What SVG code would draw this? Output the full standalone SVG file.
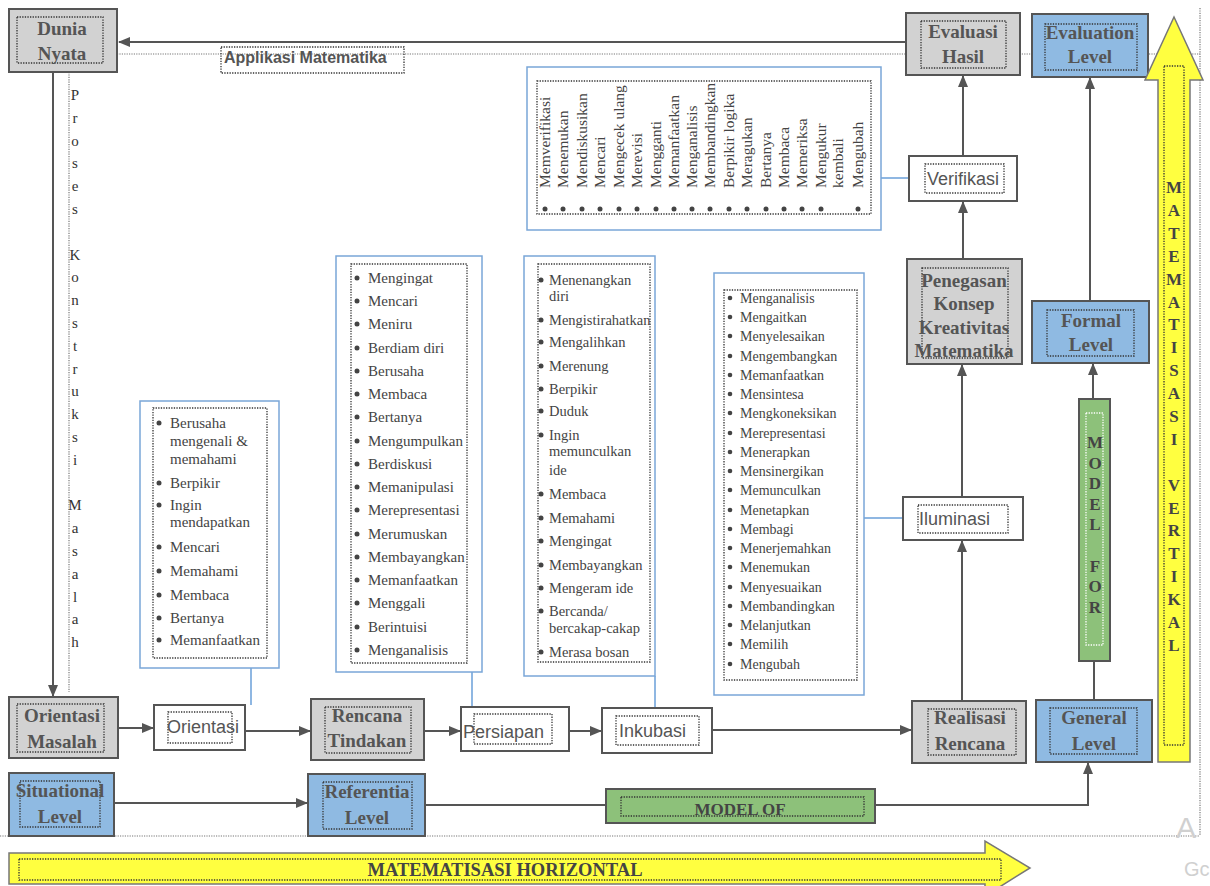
<svg xmlns="http://www.w3.org/2000/svg" width="1210" height="886" viewBox="0 0 1210 886">
<defs>
<marker id="ah" markerUnits="userSpaceOnUse" markerWidth="12" markerHeight="10" refX="11" refY="5" orient="auto">
<path d="M0,0 L12,5 L0,10 z" fill="#555"/>
</marker>
<style>
.gbox{fill:#d2d2d2;stroke:#555;stroke-width:2}
.bbox{fill:#8fbae2;stroke:#555;stroke-width:2}
.wbox{fill:#fff;stroke:#555;stroke-width:2}
.grn{fill:#8dc17a;stroke:#555;stroke-width:2}
.yel{fill:#ffff40;stroke:#777;stroke-width:1.5}
.dot{fill:none;stroke:#333;stroke-width:1.3;stroke-dasharray:1.3 1.3}
.wdot{fill:none;stroke:#fff;stroke-width:1.3;stroke-dasharray:1.3 1.3}
.frame{fill:none;stroke:#777;stroke-width:1.2;stroke-dasharray:1.2 1.2}
.list{fill:#fff;fill-opacity:0.6;stroke:#7aa6d8;stroke-width:1.5}
.lbl{font-family:"Liberation Serif",serif;font-weight:bold;font-size:19px;fill:#555;text-anchor:middle}
.sans{font-family:"Liberation Sans",sans-serif;font-size:18px;fill:#555}
.item{font-family:"Liberation Serif",serif;font-size:14.5px;fill:#444}
.vl{font-family:"Liberation Serif",serif;font-size:15px;fill:#333;text-anchor:middle}
.vb{font-family:"Liberation Serif",serif;font-weight:bold;font-size:17px;fill:#444;text-anchor:middle}
.conn{stroke:#555;stroke-width:2;fill:none}
.bl{stroke:#6a9fd8;stroke-width:1.5;fill:none}
.b{fill:#444}
</style>
</defs>
<rect width="1210" height="886" fill="#fff"/>

<g id="frame">
<line class="frame" x1="117" y1="54" x2="1200" y2="54"/>
<line class="frame" x1="1200" y1="8" x2="1200" y2="836"/>
<line class="frame" x1="0" y1="836" x2="1200" y2="836"/>
<line class="frame" x1="69" y1="72" x2="69" y2="692" stroke="#444"/>
</g>

<g id="connectors">
<line class="conn" x1="906" y1="42" x2="119" y2="42" marker-end="url(#ah)"/>
<line class="conn" x1="53" y1="72" x2="53" y2="696" marker-end="url(#ah)"/>
<line class="conn" x1="118" y1="728" x2="153" y2="728" marker-end="url(#ah)"/>
<line class="conn" x1="245" y1="731" x2="310" y2="731" marker-end="url(#ah)"/>
<line class="conn" x1="424" y1="731" x2="460" y2="731" marker-end="url(#ah)"/>
<line class="conn" x1="569" y1="731" x2="601" y2="731" marker-end="url(#ah)"/>
<line class="conn" x1="712" y1="730" x2="911" y2="730" marker-end="url(#ah)"/>
<line class="conn" x1="114" y1="803" x2="307" y2="803" marker-end="url(#ah)"/>
<line class="conn" x1="425" y1="805" x2="606" y2="805"/>
<path class="conn" d="M875,805 H1088 V763" marker-end="url(#ah)"/>
<line class="conn" x1="963" y1="157" x2="963" y2="76" marker-end="url(#ah)"/>
<line class="conn" x1="963" y1="259" x2="963" y2="202" marker-end="url(#ah)"/>
<line class="conn" x1="962" y1="497" x2="962" y2="365" marker-end="url(#ah)"/>
<line class="conn" x1="962" y1="701" x2="962" y2="541" marker-end="url(#ah)"/>
<line class="conn" x1="1093" y1="399" x2="1093" y2="364" marker-end="url(#ah)"/>
<line class="conn" x1="1090" y1="301" x2="1090" y2="78" marker-end="url(#ah)"/>
<line class="conn" x1="1094" y1="661" x2="1094" y2="700"/>
<line class="bl" x1="251" y1="668" x2="251" y2="705"/>
<line class="bl" x1="472" y1="672" x2="472" y2="707"/>
<line class="bl" x1="655" y1="676" x2="655" y2="708"/>
<line class="bl" x1="864" y1="518" x2="903" y2="518"/>
<line class="bl" x1="881" y1="178" x2="909" y2="178"/>
</g>

<g id="label-aplikasi">
<rect x="221" y="47" width="183" height="26" fill="#fff" class="dot"/>
<text x="224" y="63" class="sans" style="font-weight:bold;font-size:16px">Applikasi Matematika</text>
</g>

<g id="proses-text">
<text class="vl" x="75" y="100">P</text>
<text class="vl" x="75" y="123">r</text>
<text class="vl" x="75" y="146">o</text>
<text class="vl" x="75" y="168">s</text>
<text class="vl" x="75" y="191">e</text>
<text class="vl" x="75" y="214">s</text>
<text class="vl" x="75" y="260">K</text>
<text class="vl" x="75" y="282">o</text>
<text class="vl" x="75" y="305">n</text>
<text class="vl" x="75" y="328">s</text>
<text class="vl" x="75" y="351">t</text>
<text class="vl" x="75" y="374">r</text>
<text class="vl" x="75" y="396">u</text>
<text class="vl" x="75" y="419">k</text>
<text class="vl" x="75" y="442">s</text>
<text class="vl" x="75" y="465">i</text>
<text class="vl" x="75" y="510">M</text>
<text class="vl" x="75" y="533">a</text>
<text class="vl" x="75" y="556">s</text>
<text class="vl" x="75" y="579">a</text>
<text class="vl" x="75" y="602">l</text>
<text class="vl" x="75" y="624">a</text>
<text class="vl" x="75" y="647">h</text>
</g>

<g id="dunia-nyata">
<rect class="gbox" x="9" y="9" width="108" height="63"/>
<rect class="dot" x="17" y="17" width="86" height="46"/>
<text class="lbl" x="62" y="35">Dunia</text>
<text class="lbl" x="62" y="60">Nyata</text>
</g>

<g id="orientasi-masalah">
<rect class="gbox" x="9" y="697" width="109" height="61"/>
<rect class="dot" x="17" y="704" width="87" height="48"/>
<text class="lbl" x="62" y="722">Orientasi</text>
<text class="lbl" x="62" y="748">Masalah</text>
</g>

<g id="orientasi">
<rect class="wbox" x="154" y="705" width="91" height="45"/>
<rect class="dot" x="168" y="712" width="64" height="31"/>
<text class="sans" x="167" y="733">Orientasi</text>
</g>

<g id="rencana-tindakan">
<rect class="gbox" x="311" y="699" width="113" height="61"/>
<rect class="dot" x="325" y="707" width="86" height="46"/>
<text class="lbl" x="367" y="722">Rencana</text>
<text class="lbl" x="367" y="747">Tindakan</text>
</g>

<g id="persiapan">
<rect class="wbox" x="461" y="707" width="108" height="44"/>
<rect class="dot" x="474" y="714" width="78" height="30"/>
<text class="sans" x="463" y="738">Persiapan</text>
</g>

<g id="inkubasi">
<rect class="wbox" x="602" y="708" width="110" height="45"/>
<rect class="dot" x="616" y="716" width="83" height="29"/>
<text class="sans" x="619" y="737">Inkubasi</text>
</g>

<g id="realisasi-rencana">
<rect class="gbox" x="912" y="701" width="114" height="62"/>
<rect class="dot" x="928" y="709" width="88" height="46"/>
<text class="lbl" x="970" y="724">Realisasi</text>
<text class="lbl" x="970" y="750">Rencana</text>
</g>

<g id="general-level">
<rect class="bbox" x="1036" y="700" width="116" height="62"/>
<rect class="dot" x="1050" y="708" width="87" height="46"/>
<text class="lbl" x="1094" y="724">General</text>
<text class="lbl" x="1094" y="750">Level</text>
</g>

<g id="situational-level">
<rect class="bbox" x="9" y="773" width="105" height="63"/>
<rect class="dot" x="20" y="781" width="80" height="46"/>
<text class="lbl" x="60" y="797">Situational</text>
<text class="lbl" x="60" y="823">Level</text>
</g>

<g id="referentia-level">
<rect class="bbox" x="308" y="774" width="117" height="62"/>
<rect class="dot" x="323" y="782" width="89" height="47"/>
<text class="lbl" x="367" y="798">Referentia</text>
<text class="lbl" x="367" y="824">Level</text>
</g>

<g id="model-of">
<rect class="grn" x="606" y="789" width="269" height="34"/>
<rect class="dot" x="621" y="797" width="243" height="19"/>
<text class="lbl" x="740" y="815" style="font-size:17px;fill:#444">MODEL OF</text>
</g>

<g id="evaluasi-hasil">
<rect class="gbox" x="906" y="13" width="114" height="62"/>
<rect class="dot" x="921" y="21" width="85" height="47"/>
<text class="lbl" x="963" y="38">Evaluasi</text>
<text class="lbl" x="963" y="63">Hasil</text>
</g>

<g id="evaluation-level">
<rect class="bbox" x="1032" y="14" width="116" height="63"/>
<rect class="dot" x="1045" y="24" width="92" height="46"/>
<text class="lbl" x="1090" y="39">Evaluation</text>
<text class="lbl" x="1090" y="63">Level</text>
</g>

<g id="verifikasi">
<rect class="wbox" x="909" y="156" width="108" height="45"/>
<rect class="dot" x="925" y="164" width="79" height="29"/>
<text class="sans" x="927" y="185">Verifikasi</text>
</g>

<g id="penegasan">
<rect class="gbox" x="907" y="259" width="115" height="105"/>
<rect class="dot" x="922" y="268" width="86" height="90"/>
<text class="lbl" x="964" y="287">Penegasan</text>
<text class="lbl" x="964" y="310">Konsep</text>
<text class="lbl" x="964" y="334">Kreativitas</text>
<text class="lbl" x="964" y="357">Matematika</text>
</g>

<g id="iluminasi">
<rect class="wbox" x="903" y="497" width="120" height="43"/>
<rect class="dot" x="918" y="505" width="90" height="28"/>
<text class="sans" x="919" y="525">Iluminasi</text>
</g>

<g id="formal-level">
<rect class="bbox" x="1032" y="301" width="117" height="62"/>
<rect class="dot" x="1047" y="310" width="87" height="46"/>
<text class="lbl" x="1091" y="327">Formal</text>
<text class="lbl" x="1091" y="351">Level</text>
</g>

<g id="model-for">
<rect class="grn" x="1079" y="399" width="31" height="262"/>
<rect class="wdot" x="1086" y="413" width="17" height="232"/>
<g class="vb">
<text x="1095" y="448">M</text>
<text x="1095" y="469">O</text>
<text x="1095" y="489">D</text>
<text x="1095" y="510">E</text>
<text x="1095" y="530">L</text>
<text x="1095" y="572">F</text>
<text x="1095" y="592">O</text>
<text x="1095" y="613">R</text>
</g>
</g>

<g id="matematisasi-vertikal">
<polygon class="yel" points="1174,17 1203,80 1190,80 1190,762 1158,762 1158,80 1145,80"/>
<rect class="dot" x="1164" y="66" width="20" height="679"/>
<g class="vb">
<text x="1174" y="193">M</text>
<text x="1174" y="216">A</text>
<text x="1174" y="239">T</text>
<text x="1174" y="262">E</text>
<text x="1174" y="285">M</text>
<text x="1174" y="308">A</text>
<text x="1174" y="330">T</text>
<text x="1174" y="353">I</text>
<text x="1174" y="376">S</text>
<text x="1174" y="399">A</text>
<text x="1174" y="422">S</text>
<text x="1174" y="445">I</text>
<text x="1174" y="491">V</text>
<text x="1174" y="514">E</text>
<text x="1174" y="536">R</text>
<text x="1174" y="559">T</text>
<text x="1174" y="582">I</text>
<text x="1174" y="605">K</text>
<text x="1174" y="628">A</text>
<text x="1174" y="651">L</text>
</g>
</g>

<g id="matematisasi-horizontal">
<polygon class="yel" points="9,853 985,853 985,841 1030,868 985,896 985,884 9,884"/>
<rect class="dot" x="19" y="859" width="982" height="21"/>
<text class="lbl" x="505" y="876" style="font-size:18.5px;fill:#444">MATEMATISASI HORIZONTAL</text>
</g>

<g id="list-orientasi">
<rect class="list" x="140" y="401" width="139" height="267"/>
<rect class="dot" x="153" y="408" width="114" height="250"/>
<g class="b">
<circle cx="159" cy="423" r="2.5"/><circle cx="159" cy="483" r="2.5"/><circle cx="159" cy="505" r="2.5"/><circle cx="159" cy="547" r="2.5"/><circle cx="159" cy="571" r="2.5"/><circle cx="159" cy="595" r="2.5"/><circle cx="159" cy="618" r="2.5"/><circle cx="159" cy="640" r="2.5"/>
</g>
<g class="item" style="font-size:15px">
<text x="170" y="428">Berusaha</text>
<text x="170" y="446">mengenali &amp;</text>
<text x="170" y="464">memahami</text>
<text x="170" y="488">Berpikir</text>
<text x="170" y="510">Ingin</text>
<text x="170" y="527">mendapatkan</text>
<text x="170" y="552">Mencari</text>
<text x="170" y="576">Memahami</text>
<text x="170" y="600">Membaca</text>
<text x="170" y="623">Bertanya</text>
<text x="170" y="645">Memanfaatkan</text>
</g>
</g>

<g id="list-rencana">
<rect class="list" x="336" y="256" width="146" height="416"/>
<rect class="dot" x="351" y="264" width="116" height="399"/>
<g class="b">
<circle cx="357" cy="278" r="2.5"/><circle cx="357" cy="301" r="2.5"/><circle cx="357" cy="324" r="2.5"/><circle cx="357" cy="348" r="2.5"/><circle cx="357" cy="371" r="2.5"/><circle cx="357" cy="394" r="2.5"/><circle cx="357" cy="417" r="2.5"/><circle cx="357" cy="441" r="2.5"/><circle cx="357" cy="464" r="2.5"/><circle cx="357" cy="487" r="2.5"/><circle cx="357" cy="510" r="2.5"/><circle cx="357" cy="534" r="2.5"/><circle cx="357" cy="557" r="2.5"/><circle cx="357" cy="580" r="2.5"/><circle cx="357" cy="603" r="2.5"/><circle cx="357" cy="627" r="2.5"/><circle cx="357" cy="650" r="2.5"/>
</g>
<g class="item" style="font-size:15px">
<text x="368" y="283">Mengingat</text>
<text x="368" y="306">Mencari</text>
<text x="368" y="329">Meniru</text>
<text x="368" y="353">Berdiam diri</text>
<text x="368" y="376">Berusaha</text>
<text x="368" y="399">Membaca</text>
<text x="368" y="422">Bertanya</text>
<text x="368" y="446">Mengumpulkan</text>
<text x="368" y="469">Berdiskusi</text>
<text x="368" y="492">Memanipulasi</text>
<text x="368" y="515">Merepresentasi</text>
<text x="368" y="539">Merumuskan</text>
<text x="368" y="562">Membayangkan</text>
<text x="368" y="585">Memanfaatkan</text>
<text x="368" y="608">Menggali</text>
<text x="368" y="632">Berintuisi</text>
<text x="368" y="655">Menganalisis</text>
</g>
</g>

<g id="list-inkubasi">
<rect class="list" x="524" y="256" width="131" height="420"/>
<rect class="dot" x="538" y="264" width="112" height="398"/>
<g class="b">
<circle cx="541" cy="280" r="2.5"/><circle cx="541" cy="320" r="2.5"/><circle cx="541" cy="342" r="2.5"/><circle cx="541" cy="366" r="2.5"/><circle cx="541" cy="389" r="2.5"/><circle cx="541" cy="411" r="2.5"/><circle cx="541" cy="435" r="2.5"/><circle cx="541" cy="494" r="2.5"/><circle cx="541" cy="518" r="2.5"/><circle cx="541" cy="541" r="2.5"/><circle cx="541" cy="565" r="2.5"/><circle cx="541" cy="588" r="2.5"/><circle cx="541" cy="611" r="2.5"/><circle cx="541" cy="652" r="2.5"/>
</g>
<g class="item">
<text x="549" y="285">Menenangkan</text>
<text x="549" y="301">diri</text>
<text x="549" y="325">Mengistirahatkan</text>
<text x="549" y="347">Mengalihkan</text>
<text x="549" y="371">Merenung</text>
<text x="549" y="394">Berpikir</text>
<text x="549" y="416">Duduk</text>
<text x="549" y="440">Ingin</text>
<text x="549" y="456">memunculkan</text>
<text x="549" y="475">ide</text>
<text x="549" y="499">Membaca</text>
<text x="549" y="523">Memahami</text>
<text x="549" y="546">Mengingat</text>
<text x="549" y="570">Membayangkan</text>
<text x="549" y="593">Mengeram ide</text>
<text x="549" y="616">Bercanda/</text>
<text x="549" y="633">bercakap-cakap</text>
<text x="549" y="657">Merasa bosan</text>
</g>
</g>

<g id="list-iluminasi">
<rect class="list" x="714" y="273" width="150" height="422"/>
<rect class="dot" x="724" y="290" width="133" height="390"/>
<g class="b">
<circle cx="730" cy="298" r="2.3"/><circle cx="730" cy="317" r="2.3"/><circle cx="730" cy="336" r="2.3"/><circle cx="730" cy="356" r="2.3"/><circle cx="730" cy="375" r="2.3"/><circle cx="730" cy="394" r="2.3"/><circle cx="730" cy="413" r="2.3"/><circle cx="730" cy="433" r="2.3"/><circle cx="730" cy="452" r="2.3"/><circle cx="730" cy="471" r="2.3"/><circle cx="730" cy="490" r="2.3"/><circle cx="730" cy="510" r="2.3"/><circle cx="730" cy="529" r="2.3"/><circle cx="730" cy="548" r="2.3"/><circle cx="730" cy="567" r="2.3"/><circle cx="730" cy="587" r="2.3"/><circle cx="730" cy="606" r="2.3"/><circle cx="730" cy="625" r="2.3"/><circle cx="730" cy="644" r="2.3"/><circle cx="730" cy="664" r="2.3"/>
</g>
<g class="item" style="font-size:14px">
<text x="740" y="303">Menganalisis</text>
<text x="740" y="322">Mengaitkan</text>
<text x="740" y="341">Menyelesaikan</text>
<text x="740" y="361">Mengembangkan</text>
<text x="740" y="380">Memanfaatkan</text>
<text x="740" y="399">Mensintesa</text>
<text x="740" y="418">Mengkoneksikan</text>
<text x="740" y="438">Merepresentasi</text>
<text x="740" y="457">Menerapkan</text>
<text x="740" y="476">Mensinergikan</text>
<text x="740" y="495">Memunculkan</text>
<text x="740" y="515">Menetapkan</text>
<text x="740" y="534">Membagi</text>
<text x="740" y="553">Menerjemahkan</text>
<text x="740" y="572">Menemukan</text>
<text x="740" y="592">Menyesuaikan</text>
<text x="740" y="611">Membandingkan</text>
<text x="740" y="630">Melanjutkan</text>
<text x="740" y="649">Memilih</text>
<text x="740" y="669">Mengubah</text>
</g>
</g>

<g id="list-verifikasi">
<rect class="list" x="527" y="67" width="354" height="163"/>
<rect class="dot" x="537" y="81" width="334" height="133"/>
<g class="b">
<circle cx="545" cy="209" r="2.5"/><circle cx="563" cy="209" r="2.5"/><circle cx="582" cy="209" r="2.5"/><circle cx="600" cy="209" r="2.5"/><circle cx="619" cy="209" r="2.5"/><circle cx="637" cy="209" r="2.5"/><circle cx="656" cy="209" r="2.5"/><circle cx="674" cy="209" r="2.5"/><circle cx="692" cy="209" r="2.5"/><circle cx="710" cy="209" r="2.5"/><circle cx="729" cy="209" r="2.5"/><circle cx="747" cy="209" r="2.5"/><circle cx="766" cy="209" r="2.5"/><circle cx="784" cy="209" r="2.5"/><circle cx="802" cy="209" r="2.5"/><circle cx="821" cy="209" r="2.5"/><circle cx="858" cy="209" r="2.5"/>
</g>
<g class="item" style="font-size:15.5px">
<text transform="translate(550,188) rotate(-90)">Memverifikasi</text>
<text transform="translate(568,188) rotate(-90)">Menemukan</text>
<text transform="translate(587,188) rotate(-90)">Mendiskusikan</text>
<text transform="translate(605,188) rotate(-90)">Mencari</text>
<text transform="translate(624,188) rotate(-90)">Mengecek ulang</text>
<text transform="translate(642,188) rotate(-90)">Merevisi</text>
<text transform="translate(661,188) rotate(-90)">Mengganti</text>
<text transform="translate(679,188) rotate(-90)">Memanfaatkan</text>
<text transform="translate(697,188) rotate(-90)">Menganalisis</text>
<text transform="translate(715,188) rotate(-90)">Membandingkan</text>
<text transform="translate(734,188) rotate(-90)">Berpikir logika</text>
<text transform="translate(752,188) rotate(-90)">Meragukan</text>
<text transform="translate(771,188) rotate(-90)">Bertanya</text>
<text transform="translate(789,188) rotate(-90)">Membaca</text>
<text transform="translate(807,188) rotate(-90)">Memeriksa</text>
<text transform="translate(826,188) rotate(-90)">Mengukur</text>
<text transform="translate(843,188) rotate(-90)">kembali</text>
<text transform="translate(863,188) rotate(-90)">Mengubah</text>
</g>
</g>

<g id="watermark">
<text x="1176" y="838" style="font-family:'Liberation Sans',sans-serif;font-size:30px;fill:#d0d0d0">A</text>
<text x="1184" y="876" style="font-family:'Liberation Sans',sans-serif;font-size:20px;fill:#d0d0d0">Gc</text>
</g>
</svg>
